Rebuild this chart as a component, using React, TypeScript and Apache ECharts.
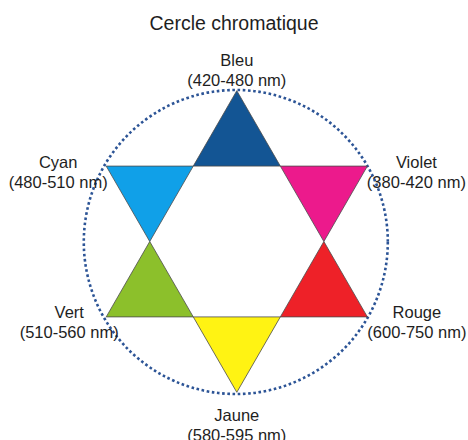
import React, { useEffect, useRef } from "react";
import * as echarts from "echarts";

const colorNames = ["Bleu", "Violet", "Rouge", "Jaune", "Vert", "Cyan"];
const wavelengths = ["420-480 nm", "380-420 nm", "600-750 nm", "580-595 nm", "510-560 nm", "480-510 nm"];
const fillColors = ["#135594", "#ec1a8c", "#ee2128", "#fff313", "#8cc02b", "#10a0e8"];
const anglesDeg = [90, 30, -30, -90, -150, 150];

// label offsets (px) from each star point
const labelOffsets: number[][] = [
  [0, -21],
  [49, 6],
  [49.5, 5],
  [0, 33],
  [-37, 5],
  [-48, 6],
];

const FONT = "'Liberation Sans', Arial, Helvetica, sans-serif";

export default function App() {
  const ref = useRef<HTMLDivElement>(null);
  useEffect(() => {
    document.body.style.margin = "0";
    if (!ref.current) return;
    const chart = echarts.init(ref.current, undefined, { renderer: "svg" });
    const innerR = 1 / Math.sqrt(3);
    const rad = (d: number) => (d * Math.PI) / 180;

    chart.setOption({
      animation: false,
      backgroundColor: "#ffffff",
      title: {
        text: "Cercle chromatique",
        left: "center",
        top: 13,
        padding: 0,
        textStyle: { fontSize: 19.5, fontWeight: "normal", color: "#1e1e1e", fontFamily: FONT },
      },
      grid: { left: 86, top: 90.7, width: 301.6, height: 301.6 },
      xAxis: { type: "value", min: -1, max: 1, show: false },
      yAxis: { type: "value", min: -1, max: 1, show: false },
      series: [
        {
          type: "custom",
          coordinateSystem: "cartesian2d",
          clip: false,
          silent: true,
          z: 1,
          data: [[0, 0]],
          renderItem: (params: any, api: any) => {
            const c = api.coord([api.value(0), api.value(1)]);
            const r = api.size([1.008, 0])[0];
            return {
              type: "circle",
              shape: { cx: c[0] - 1, cy: c[1] + 0.5, r },
              style: {
                fill: "none",
                stroke: "#2c5496",
                lineWidth: 2.6,
                lineDash: [2.6, 2.6],
              },
            };
          },
        },
        {
          type: "custom",
          coordinateSystem: "cartesian2d",
          clip: false,
          silent: true,
          z: 2,
          data: anglesDeg.map((a, i) => [Math.cos(rad(a)), Math.sin(rad(a)), i]),
          renderItem: (params: any, api: any) => {
            const i = params.dataIndex;
            const a = anglesDeg[i];
            const outer = api.coord([api.value(0), api.value(1)]);
            const p1 = api.coord([innerR * Math.cos(rad(a - 30)), innerR * Math.sin(rad(a - 30))]);
            const p2 = api.coord([innerR * Math.cos(rad(a + 30)), innerR * Math.sin(rad(a + 30))]);
            const off = labelOffsets[i];
            return {
              type: "group",
              children: [
                {
                  type: "polygon",
                  shape: { points: [outer, p1, p2] },
                  style: { fill: fillColors[i], stroke: "#4a4a4a", lineWidth: 0.8 },
                },
                {
                  type: "text",
                  x: outer[0] + off[0],
                  y: outer[1] + off[1],
                  z2: 10,
                  style: {
                    text: colorNames[i] + "\n(" + wavelengths[i] + ")",
                    fontSize: 16.5,
                    fontFamily: FONT,
                    fill: "#1e1e1e",
                    align: "center",
                    verticalAlign: "middle",
                    lineHeight: 20,
                  },
                },
              ],
            };
          },
        },
      ],
    });
    return () => chart.dispose();
  }, []);
  return <div ref={ref} style={{ width: 468, height: 440 }} />;
}
